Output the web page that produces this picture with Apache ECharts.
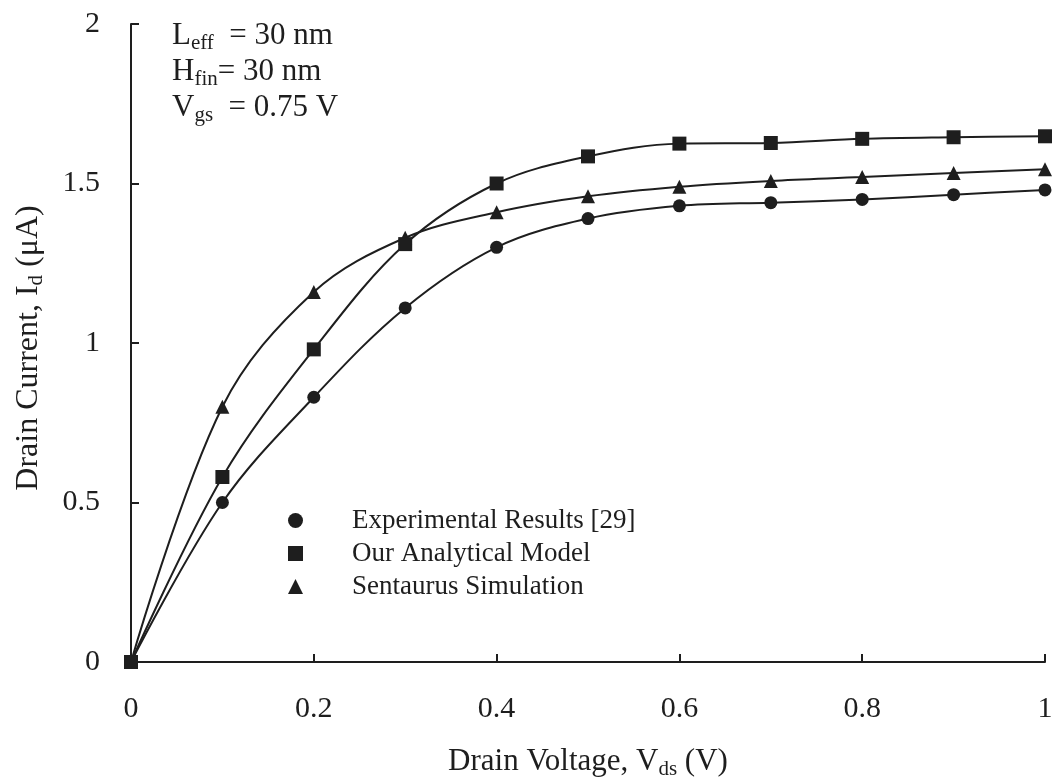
<!DOCTYPE html>
<html>
<head>
<meta charset="utf-8">
<title>Drain current vs drain voltage</title>
<script src="https://cdn.jsdelivr.net/npm/echarts@6/dist/echarts.min.js"></script>
<style>
  html, body { margin: 0; padding: 0; background: #fff; }
  #chart { width: 1052px; height: 778px; }
</style>
</head>
<body>
<div id="chart"></div>
<script>
// drain voltage Vds (V)
const vds = [0, 0.1, 0.2, 0.3, 0.4, 0.5, 0.6, 0.7, 0.8, 0.9, 1.0]
// drain current Id (uA)
const experimental = [0, 0.50, 0.83, 1.11, 1.30, 1.39, 1.43, 1.44, 1.45, 1.465, 1.48]
const analytical = [0, 0.58, 0.98, 1.31, 1.50, 1.585, 1.625, 1.627, 1.64, 1.645, 1.648]
const sentaurus = [0, 0.80, 1.16, 1.33, 1.41, 1.46, 1.49, 1.508, 1.52, 1.533, 1.545]

const seriesNames = ['Experimental Results [29]', 'Our Analytical Model', 'Sentaurus Simulation']
const xTicks = [0, 0.2, 0.4, 0.6, 0.8, 1]
const yTicks = [0, 0.5, 1, 1.5, 2]

const font = "'Liberation Serif', 'Times New Roman', serif"
const ink = '#1e1e1e'

const pairs = arr => vds.map((v, i) => [v, arr[i]])

const chart = echarts.init(document.getElementById('chart'))

// rich styles for text with a subscript
const richText = (size, subSize, lh) => ({
  s: { fontFamily: font, fontSize: size, color: ink, fill: ink, lineHeight: lh },
  sub: { fontFamily: font, fontSize: subSize, color: ink, fill: ink, lineHeight: subSize + 1, verticalAlign: 'bottom' }
})

// common style for one curve with markers
const curve = (name, data, symbol, size, z) => ({
  name: name,
  type: 'line',
  data: pairs(data),
  smooth: 0.35,
  symbol: symbol,
  symbolSize: size,
  showAllSymbol: true,
  z: z,
  lineStyle: { color: ink, width: 2 },
  itemStyle: { color: ink, borderWidth: 0 },
  emphasis: { disabled: true }
})

const option = {
  backgroundColor: '#fff',
  animation: false,
  textStyle: { fontFamily: font, color: ink },
  grid: { left: 131, right: 7, top: 24, bottom: 116, outerBoundsMode: 'none' },
  xAxis: {
    type: 'value',
    min: 0,
    max: 1,
    interval: 0.2,
    name: '{s|Drain Voltage, V}{sub|ds}{s| (V)}',
    nameLocation: 'middle',
    nameGap: 82,
    nameTextStyle: {
      fontFamily: font, fontSize: 31, color: ink,
      rich: richText(31, 21, 36)
    },
    axisLine: { lineStyle: { color: ink, width: 2 } },
    axisTick: { inside: true, length: 8, lineStyle: { color: ink, width: 2 } },
    axisLabel: {
      fontFamily: font, fontSize: 30, color: ink, margin: 32,
      formatter: v => xTicks.includes(+v.toFixed(1)) ? String(+v.toFixed(1)) : ''
    },
    splitLine: { show: false }
  },
  yAxis: {
    type: 'value',
    min: 0,
    max: 2,
    interval: 0.5,
    name: '{s|Drain Current, I}{sub|d}{s| (\u03bcA)}',
    nameLocation: 'middle',
    nameGap: 84,
    nameTextStyle: {
      fontFamily: font, fontSize: 32, color: ink, padding: [0, 10, 0, 0],
      rich: richText(32, 21, 36)
    },
    axisLine: { show: true, lineStyle: { color: ink, width: 2 } },
    axisTick: { show: true, inside: true, length: 8, lineStyle: { color: ink, width: 2 } },
    axisLabel: {
      fontFamily: font, fontSize: 30, color: ink, margin: 31,
      formatter: v => yTicks.includes(v) ? String(v) : ''
    },
    splitLine: { show: false }
  },
  legend: {
    orient: 'vertical',
    left: 283,
    top: 502,
    itemGap: 6,
    itemWidth: 15,
    itemHeight: 15,
    selectedMode: false,
    textStyle: { fontFamily: font, fontSize: 27, color: ink, padding: [0, 0, 0, 44] },
    data: [
      { name: seriesNames[0], icon: 'circle' },
      { name: seriesNames[1], icon: 'rect' },
      { name: seriesNames[2], icon: 'triangle' }
    ]
  },
  graphic: [{
    type: 'text',
    left: 172,
    top: 20,
    style: {
      text: '{s|L}{sub|eff}{s|  = 30 nm}\n{s|H}{sub|fin}{s|= 30 nm}\n{s|V}{sub|gs}{s|  = 0.75 V}',
      fontFamily: font,
      fill: ink,
      rich: richText(31, 21, 36)
    }
  }],
  series: [
    curve(seriesNames[0], experimental, 'circle', 13, 2),
    curve(seriesNames[2], sentaurus, 'triangle', 14, 3),
    curve(seriesNames[1], analytical, 'rect', 14, 4)
  ]
}

chart.setOption(option)
window.addEventListener('resize', () => chart.resize())
</script>
</body>
</html>
